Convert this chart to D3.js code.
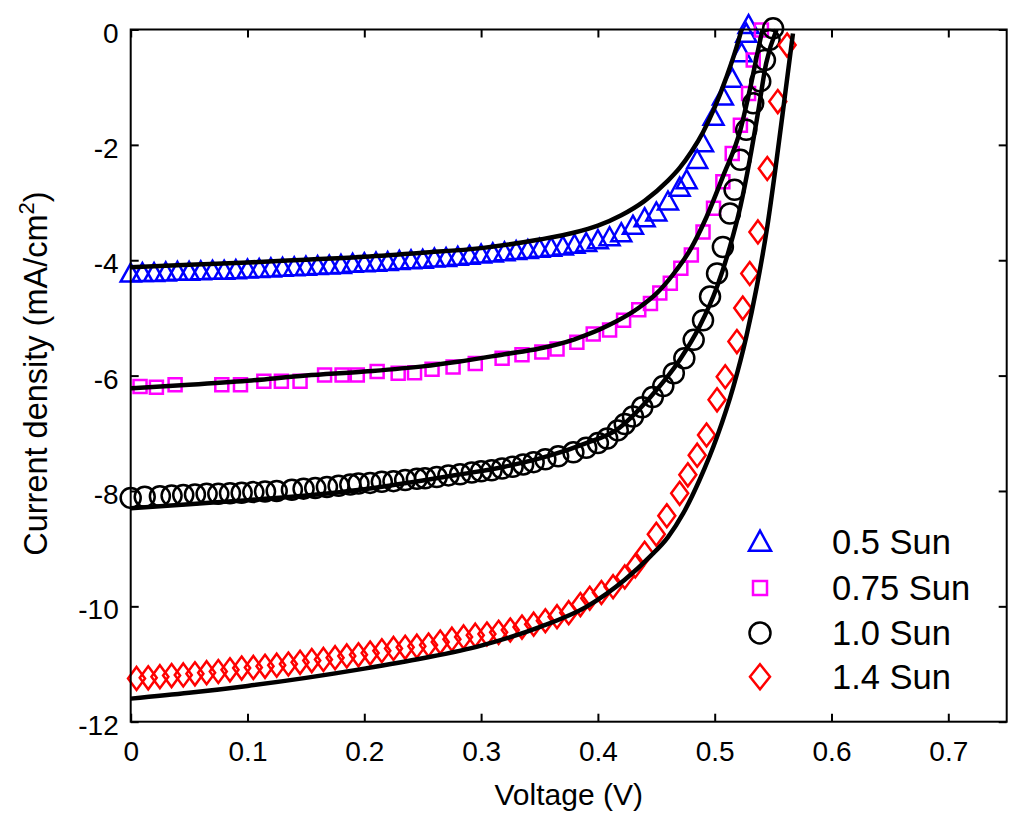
<!DOCTYPE html>
<html>
<head>
<meta charset="utf-8">
<script src="https://cdn.jsdelivr.net/npm/d3@7"></script>
<style>
  body { margin: 0; background: #fff; }
  text { font-family: "Liberation Sans", Arial, sans-serif; fill: #000; }
</style>
</head>
<body>
<svg id="chart" width="1024" height="826"></svg>
<script>
const sun05 = [[0.00,-4.23],[0.01,-4.22],[0.02,-4.22],[0.03,-4.21],[0.04,-4.20],[0.05,-4.20],[0.06,-4.19],[0.07,-4.18],[0.08,-4.18],[0.09,-4.17],[0.10,-4.16],[0.11,-4.15],[0.12,-4.14],[0.13,-4.13],[0.14,-4.12],[0.15,-4.11],[0.16,-4.10],[0.17,-4.09],[0.18,-4.08],[0.19,-4.06],[0.20,-4.05],[0.21,-4.04],[0.22,-4.03],[0.23,-4.01],[0.24,-4.00],[0.25,-3.99],[0.26,-3.97],[0.27,-3.96],[0.28,-3.94],[0.29,-3.92],[0.30,-3.90],[0.31,-3.88],[0.32,-3.86],[0.33,-3.84],[0.34,-3.82],[0.35,-3.80],[0.36,-3.78],[0.37,-3.76],[0.38,-3.73],[0.39,-3.70],[0.40,-3.65],[0.41,-3.60],[0.42,-3.53],[0.43,-3.40],[0.44,-3.27],[0.45,-3.17],[0.46,-2.98],[0.47,-2.74],[0.476,-2.61],[0.485,-2.26],[0.49,-1.97],[0.499,-1.51],[0.507,-1.16],[0.515,-0.85],[0.523,-0.41],[0.527,-0.07],[0.529,0.08]];

const sun075 = [[0.008,-6.19],[0.022,-6.20],[0.038,-6.16],[0.078,-6.16],[0.094,-6.16],[0.114,-6.10],[0.129,-6.10],[0.145,-6.10],[0.166,-5.99],[0.181,-5.99],[0.194,-5.99],[0.211,-5.93],[0.229,-5.96],[0.243,-5.95],[0.258,-5.89],[0.276,-5.85],[0.295,-5.79],[0.318,-5.70],[0.335,-5.64],[0.352,-5.59],[0.365,-5.54],[0.382,-5.42],[0.396,-5.28],[0.41,-5.21],[0.422,-5.04],[0.435,-4.86],[0.445,-4.75],[0.453,-4.57],[0.462,-4.40],[0.471,-4.14],[0.48,-3.91],[0.49,-3.51],[0.499,-3.10],[0.507,-2.64],[0.515,-2.15],[0.522,-1.66],[0.529,-1.11],[0.533,-0.53],[0.54,-0.01]];

const sun10 = [[0.000,-8.12],[0.012,-8.10],[0.025,-8.09],[0.035,-8.08],[0.045,-8.07],[0.055,-8.06],[0.065,-8.05],[0.075,-8.05],[0.085,-8.04],[0.095,-8.03],[0.105,-8.02],[0.115,-8.01],[0.125,-8.00],[0.138,-7.98],[0.148,-7.96],[0.158,-7.95],[0.168,-7.93],[0.178,-7.91],[0.188,-7.89],[0.195,-7.87],[0.205,-7.86],[0.215,-7.84],[0.225,-7.83],[0.235,-7.81],[0.245,-7.79],[0.252,-7.78],[0.262,-7.76],[0.272,-7.73],[0.282,-7.71],[0.292,-7.68],[0.300,-7.66],[0.309,-7.64],[0.318,-7.61],[0.327,-7.58],[0.336,-7.54],[0.345,-7.50],[0.355,-7.45],[0.366,-7.40],[0.379,-7.33],[0.39,-7.25],[0.400,-7.17],[0.408,-7.09],[0.417,-6.95],[0.423,-6.84],[0.430,-6.71],[0.438,-6.55],[0.447,-6.37],[0.456,-6.18],[0.465,-5.96],[0.474,-5.70],[0.482,-5.38],[0.490,-5.04],[0.496,-4.63],[0.502,-4.23],[0.507,-3.77],[0.513,-3.19],[0.517,-2.78],[0.522,-2.26],[0.527,-1.74],[0.533,-1.28],[0.539,-0.90],[0.543,-0.53],[0.547,-0.18],[0.550,0.02]];

const sun14 = [[0.005,-11.25],[0.015,-11.24],[0.025,-11.22],[0.035,-11.20],[0.045,-11.19],[0.055,-11.17],[0.065,-11.15],[0.075,-11.13],[0.085,-11.10],[0.095,-11.07],[0.105,-11.06],[0.115,-11.04],[0.125,-11.02],[0.135,-11.00],[0.145,-10.97],[0.155,-10.94],[0.165,-10.92],[0.175,-10.89],[0.185,-10.86],[0.195,-10.84],[0.205,-10.81],[0.215,-10.77],[0.225,-10.73],[0.235,-10.71],[0.245,-10.69],[0.255,-10.67],[0.265,-10.62],[0.275,-10.57],[0.285,-10.53],[0.295,-10.50],[0.305,-10.48],[0.315,-10.45],[0.325,-10.41],[0.335,-10.36],[0.345,-10.31],[0.355,-10.25],[0.365,-10.18],[0.375,-10.11],[0.385,-9.97],[0.393,-9.86],[0.403,-9.76],[0.413,-9.66],[0.423,-9.49],[0.432,-9.30],[0.44,-9.08],[0.45,-8.75],[0.459,-8.43],[0.47,-8.04],[0.477,-7.72],[0.485,-7.38],[0.493,-7.03],[0.502,-6.42],[0.509,-6.02],[0.519,-5.41],[0.524,-4.83],[0.530,-4.23],[0.537,-3.51],[0.545,-2.41],[0.554,-1.25],[0.562,-0.27]];

// fitted curves
const fit05 = [[0,-4.12],[0.05,-4.08],[0.1,-4.04],[0.15,-3.99],[0.2,-3.94],[0.25,-3.87],[0.3,-3.79],[0.35,-3.64],[0.38,-3.52],[0.40,-3.40],[0.42,-3.22],[0.44,-2.97],[0.46,-2.62],[0.47,-2.40],[0.48,-2.12],[0.49,-1.78],[0.50,-1.35],[0.51,-0.83],[0.52,-0.22],[0.523,0]];
const fit075 = [[0,-6.22],[0.05,-6.16],[0.1,-6.09],[0.15,-6.0],[0.2,-5.93],[0.25,-5.84],[0.28,-5.76],[0.32,-5.63],[0.35,-5.53],[0.38,-5.37],[0.41,-5.12],[0.436,-4.81],[0.45,-4.58],[0.465,-4.23],[0.479,-3.82],[0.493,-3.25],[0.507,-2.55],[0.522,-1.74],[0.53,-1.05],[0.539,-0.18],[0.541,0]];
const fit10 = [[0,-8.30],[0.05,-8.23],[0.1,-8.16],[0.15,-8.08],[0.2,-7.97],[0.25,-7.82],[0.28,-7.72],[0.32,-7.58],[0.36,-7.38],[0.39,-7.17],[0.416,-6.94],[0.445,-6.37],[0.47,-5.73],[0.487,-5.15],[0.502,-4.46],[0.513,-3.77],[0.522,-3.07],[0.53,-2.26],[0.537,-1.45],[0.544,-0.59],[0.553,0]];
const fit14 = [[0,-11.6],[0.05,-11.5],[0.1,-11.38],[0.15,-11.24],[0.2,-11.08],[0.25,-10.9],[0.3,-10.68],[0.35,-10.36],[0.39,-10.01],[0.423,-9.54],[0.445,-9.13],[0.46,-8.8],[0.473,-8.39],[0.487,-7.81],[0.502,-7.06],[0.516,-6.19],[0.527,-5.33],[0.536,-4.46],[0.545,-3.42],[0.553,-2.26],[0.56,-1.17],[0.567,-0.07]];

const legendLabels = ['0.5 Sun', '0.75 Sun', '1.0 Sun', '1.4 Sun'];
const xTicks = [0, 0.1, 0.2, 0.3, 0.4, 0.5, 0.6, 0.7];
const xTickLabels = ['0', '0.1', '0.2', '0.3', '0.4', '0.5', '0.6', '0.7'];
const yTicks = [0, -2, -4, -6, -8, -10, -12];
const yTickLabels = ['0', '-2', '-4', '-6', '-8', '-10', '-12'];

// marker shapes (w, h in px)
const tri = (w, h) => ({ draw(c) { c.moveTo(0, -h * 0.55); c.lineTo(w / 2, h * 0.45); c.lineTo(-w / 2, h * 0.45); c.closePath(); } });
const sq = (s) => ({ draw(c) { c.rect(-s / 2, -s / 2, s, s); } });
const circ = (d) => ({ draw(c) { c.moveTo(d / 2, 0); c.arc(0, 0, d / 2, 0, 2 * Math.PI); } });
const dia = (w, h) => ({ draw(c) { c.moveTo(0, -h / 2); c.lineTo(w / 2, 0); c.lineTo(0, h / 2); c.lineTo(-w / 2, 0); c.closePath(); } });

const series = [
  { data: sun05, fit: fit05, color: '#0000ff', shape: tri(20, 18), legShape: tri(22, 20) },
  { data: sun075, fit: fit075, color: '#ff00ff', shape: sq(13), legShape: sq(14) },
  { data: sun10, fit: fit10, color: '#000000', shape: circ(20), legShape: circ(21) },
  { data: sun14, fit: fit14, color: '#ff0000', shape: dia(17, 23), legShape: dia(20, 25) }
];

const svg = d3.select('#chart');
const mLeft = 130.7, mRight = 1006.7, mTop = 29.5, mBottom = 721.7;

const x = d3.scaleLinear().domain([0, 0.75]).range([mLeft, mRight]);
const y = d3.scaleLinear().domain([-12, 0]).range([mBottom, mTop]);

// markers
series.forEach(s => {
  const sym = d3.symbol().type(s.shape);
  svg.append('g').selectAll('path').data(s.data).join('path')
    .attr('d', sym)
    .attr('transform', d => `translate(${x(d[0])},${y(d[1])})`)
    .attr('fill', 'none').attr('stroke', s.color).attr('stroke-width', 2.5);
});

// fits
const line = d3.line().x(d => x(d[0])).y(d => y(d[1])).curve(d3.curveMonotoneX);
series.forEach(s => {
  svg.append('path').attr('d', line(s.fit))
    .attr('fill', 'none').attr('stroke', '#000').attr('stroke-width', 4.5);
});

// axes
const tk = 8;
svg.append('g').attr('transform', `translate(0,${mBottom})`)
  .call(d3.axisBottom(x).tickValues(xTicks).tickFormat((d, i) => xTickLabels[i]).tickSizeInner(-tk).tickSizeOuter(0).tickPadding(19))
  .call(g => g.selectAll('text').attr('font-size', 28).attr('dy', '0.71em'));
svg.append('g').attr('transform', `translate(0,${mTop})`)
  .call(d3.axisTop(x).tickValues(xTicks).tickFormat('').tickSizeInner(-tk).tickSizeOuter(0));
svg.append('g').attr('transform', `translate(${mLeft},0)`)
  .call(d3.axisLeft(y).tickValues(yTicks).tickFormat((d, i) => yTickLabels[i]).tickSizeInner(-tk).tickSizeOuter(0).tickPadding(12))
  .call(g => g.selectAll('text').attr('font-size', 28).attr('dy', '0.45em'));
svg.append('g').attr('transform', `translate(${mRight},0)`)
  .call(d3.axisRight(y).tickValues(yTicks).tickFormat('').tickSizeInner(-tk).tickSizeOuter(0));
svg.selectAll('.domain').remove();
svg.selectAll('.tick line').attr('stroke', '#000').attr('stroke-width', 2);
svg.selectAll('.tick text').attr('fill', '#000').style('font-family', '"Liberation Sans", Arial, sans-serif');

svg.append('rect').attr('x', mLeft).attr('y', mTop)
  .attr('width', mRight - mLeft).attr('height', mBottom - mTop)
  .attr('fill', 'none').attr('stroke', '#000').attr('stroke-width', 2);

// axis titles
svg.append('text').attr('x', (mLeft + mRight) / 2).attr('y', 805)
  .attr('text-anchor', 'middle').attr('font-size', 30).text('Voltage (V)');

const yl = svg.append('text')
  .attr('transform', `translate(47,${(mTop + mBottom) / 2 - 2}) rotate(-90)`)
  .attr('text-anchor', 'middle').attr('font-size', 32.5);
yl.append('tspan').text('Current density (mA/cm');
yl.append('tspan').attr('font-size', 22).attr('dy', -13).text('2');
yl.append('tspan').attr('dy', 13).text(')');

// legend
const legY = [541.7, 588, 633, 676.7];
const leg = svg.append('g');
series.forEach((s, i) => {
  leg.append('path').attr('d', d3.symbol().type(s.legShape)())
    .attr('transform', `translate(760,${legY[i]})`)
    .attr('fill', 'none').attr('stroke', s.color).attr('stroke-width', 2.5);
  leg.append('text').attr('x', 832).attr('y', legY[i]).attr('dy', '0.36em')
    .attr('font-size', 34.5).text(legendLabels[i]);
});
</script>
</body>
</html>
